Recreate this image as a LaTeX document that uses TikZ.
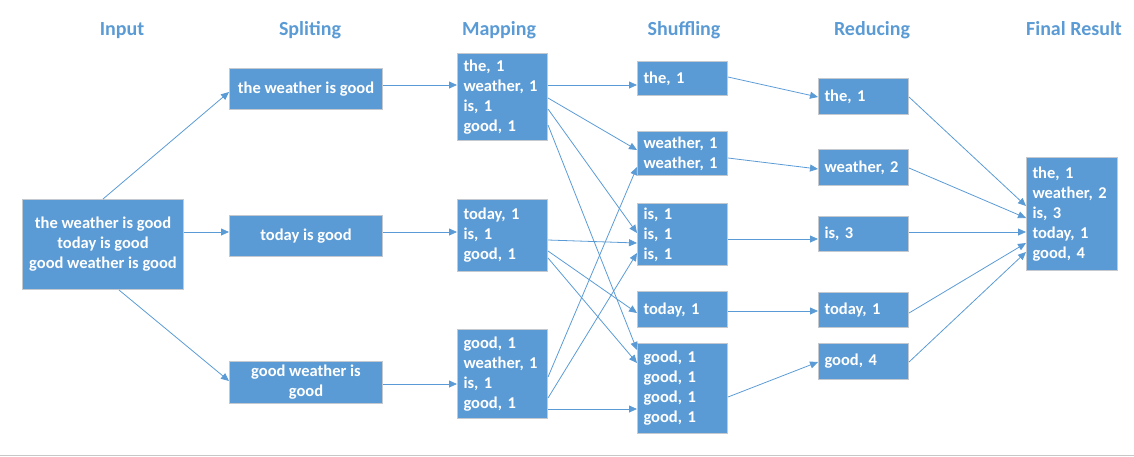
\documentclass[tikz,border=0pt]{standalone}
\usepackage{fontspec}
\setmainfont{Carlito}
\usetikzlibrary{arrows.meta}
\definecolor{mrblue}{HTML}{5B9BD5}
\definecolor{mrline}{HTML}{C4C9CF}
\tikzset{
  box/.style={draw=mrline, line width=1pt, fill=mrblue, text=white, anchor=north west,
    font=\bfseries\fontsize{16.5}{20}\selectfont, inner xsep=6pt, inner ysep=0pt, align=left},
  mid/.style={align=center},
  title/.style={text=mrblue, anchor=base, font=\bfseries\fontsize{20}{24}\selectfont},
  link/.style={draw=mrblue, line width=0.8pt, -{Triangle[length=8pt,width=7pt]}}
}
\begin{document}
\begin{tikzpicture}[x=1pt, y=-1pt]
  \useasboundingbox (0,0) rectangle (1134,456);
  % column titles
  \node[title] (tin) at (122,35.5) {Input};
  \node[title] (tsp) at (310,35.5) {Spliting};
  \node[title] (tmp) at (499,35.5) {Mapping};
  \node[title] (tsh) at (684,35.5) {Shuffling};
  \node[title] (trd) at (872,35.5) {Reducing};
  \node[title] (tfin) at (1074,35.5) {Final Result};
  % input
  \node[box, mid, minimum width=161pt, minimum height=90pt] (in) at (22,199)
    {the weather is good\\today is good\\good weather is good};
  % spliting
  \node[box, mid, minimum width=153pt, minimum height=41pt] (sp1) at (229,68) {the weather is good};
  \node[box, mid, minimum width=153pt, minimum height=41pt] (sp2) at (229,215) {today is good};
  \node[box, mid, minimum width=153pt, minimum height=42pt] (sp3) at (229,361) {good weather is\\good};
  % mapping
  \node[box, minimum width=90pt, minimum height=87pt, text width=78pt] (mp1) at (457,53) {the, 1\\weather, 1\\is, 1\\good, 1};
  \node[box, minimum width=90pt, minimum height=72pt, text width=78pt] (mp2) at (457,199) {today, 1\\is, 1\\good, 1};
  \node[box, minimum width=90pt, minimum height=89pt, text width=78pt] (mp3) at (457,329) {good, 1\\weather, 1\\is, 1\\good, 1};
  % shuffling
  \node[box, minimum width=90pt, minimum height=34pt, text width=78pt] (sh1) at (637,61) {the, 1};
  \node[box, minimum width=90pt, minimum height=44pt, text width=78pt] (sh2) at (637,131) {weather, 1\\weather, 1};
  \node[box, minimum width=90pt, minimum height=62pt, text width=78pt] (sh3) at (637,203) {is, 1\\is, 1\\is, 1};
  \node[box, minimum width=90pt, minimum height=36pt, text width=78pt] (sh4) at (637,291) {today, 1};
  \node[box, minimum width=90pt, minimum height=90pt, text width=78pt] (sh5) at (637,343) {good, 1\\good, 1\\good, 1\\good, 1};
  % reducing
  \node[box, minimum width=90pt, minimum height=36pt, text width=78pt] (rd1) at (818,78) {the, 1};
  \node[box, minimum width=90pt, minimum height=36pt, text width=78pt] (rd2) at (818,149) {weather, 2};
  \node[box, minimum width=90pt, minimum height=35pt, text width=78pt] (rd3) at (818,216) {is, 3};
  \node[box, minimum width=90pt, minimum height=35pt, text width=78pt] (rd4) at (818,292) {today, 1};
  \node[box, minimum width=90pt, minimum height=36pt, text width=78pt] (rd5) at (818,343) {good, 4};
  % final result
  \node[box, minimum width=91pt, minimum height=113pt, text width=79pt] (fin) at (1026,157)
    {the, 1\\weather, 2\\is, 3\\today, 1\\good, 4};
  % input -> spliting
  \draw[link] (in.north) -- ([yshift=-24pt]sp1.north west);
  \draw[link] ([yshift=-33pt]in.north east) -- ([yshift=-17pt]sp2.north west);
  \draw[link] ([xshift=16pt]in.south) -- ([yshift=-20pt]sp3.north west);
  % spliting -> mapping
  \foreach \a/\da/\b/\db in {sp1/17/mp1/32, sp2/17/mp2/33, sp3/23/mp3/55}
    \draw[link] ([yshift=-\da pt]\a.north east) -- ([yshift=-\db pt]\b.north west);
  % mapping -> shuffling
  \foreach \a/\da/\b/\db in {mp1/32/sh1/24, mp1/45/sh2/19, mp1/56/sh3/30, mp1/72/sh5/7,
      mp2/41/sh3/40, mp2/52/sh4/22, mp2/59/sh5/20,
      mp3/48/sh2/36, mp3/69/sh3/50, mp3/80/sh5/66}
    \draw[link] ([yshift=-\da pt]\a.north east) -- ([yshift=-\db pt]\b.north west);
  % shuffling -> reducing
  \foreach \a/\da/\b/\db in {sh1/16/rd1/19, sh2/27/rd2/20, sh3/36/rd3/23, sh4/20/rd4/19, sh5/54/rd5/19}
    \draw[link] ([yshift=-\da pt]\a.north east) -- ([yshift=-\db pt]\b.north west);
  % reducing -> final result
  \foreach \a/\da/\db in {rd1/19/49, rd2/19/61, rd3/16/75, rd4/21/86, rd5/19/95}
    \draw[link] ([yshift=-\da pt]\a.north east) -- ([yshift=-\db pt]fin.north west);
  % bottom rule
  \draw[black!22, line width=1pt] (0,455.5) -- (1134,455.5);
\end{tikzpicture}
\end{document}
